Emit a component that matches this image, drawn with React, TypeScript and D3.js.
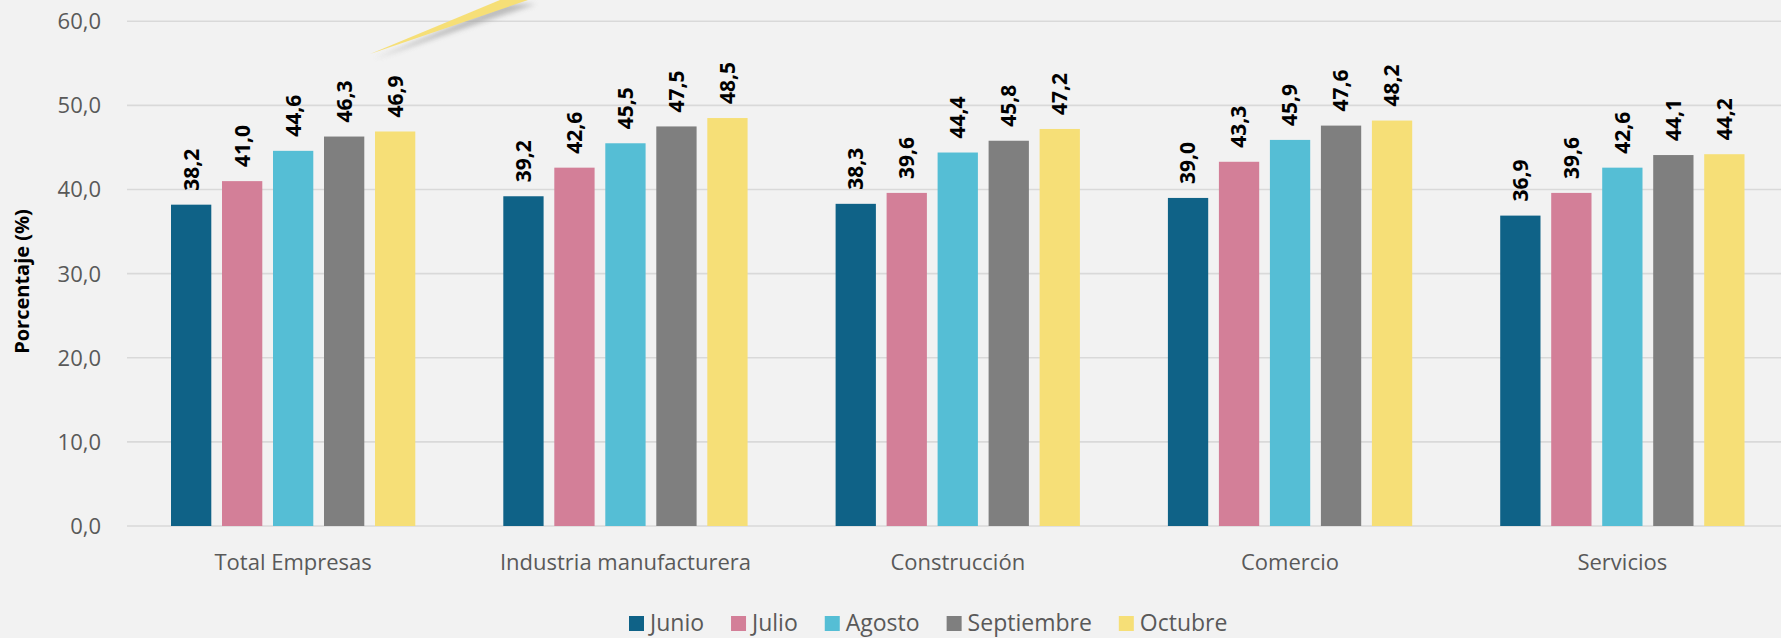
import React from "react";
import * as d3 from "d3";

const categories = ["Total Empresas", "Industria manufacturera", "Construcción", "Comercio", "Servicios"];
const seriesNames = ["Junio", "Julio", "Agosto", "Septiembre", "Octubre"];
const seriesColors = ["#0f6287", "#d37f98", "#55bed5", "#7f7f7f", "#f6df77"];
const junio = [38.2, 39.2, 38.3, 39.0, 36.9];
const julio = [41.0, 42.6, 39.6, 43.3, 39.6];
const agosto = [44.6, 45.5, 44.4, 45.9, 42.6];
const septiembre = [46.3, 47.5, 45.8, 47.6, 44.1];
const octubre = [46.9, 48.5, 47.2, 48.2, 44.2];
const yTicks = [0, 10, 20, 30, 40, 50, 60];
const yTitle = "Porcentaje (%)";

const seriesValues = [junio, julio, agosto, septiembre, octubre];

const W = 1781;
const H = 638;
const FONT = "'Open Sans', 'Segoe UI', sans-serif";

function fmt(v: number) {
  return v.toFixed(1).replace(".", ",");
}

function measure(text: string, font: string) {
  if (typeof document === "undefined") return text.length * 12;
  const c = document.createElement("canvas");
  const ctx = c.getContext("2d");
  if (!ctx) return text.length * 12;
  ctx.font = font;
  return ctx.measureText(text).width;
}

export default function App() {
  React.useEffect(() => {
    document.body.style.margin = "0";
  }, []);

  const x0 = d3.scaleBand<string>().domain(categories).range([127, 1788.5]).paddingInner(0).paddingOuter(0);
  const x1 = d3
    .scaleBand<string>()
    .domain(seriesNames)
    .range([-127.5, 127.5])
    .paddingInner(0.21)
    .paddingOuter(0.105);
  const y = d3.scaleLinear().domain([0, 60]).range([526, 21.3]);

  const legendFont = `23px ${FONT}`;
  let lx = 629;
  const legendItems = seriesNames.map((name, i) => {
    const w = measure(name, legendFont);
    const item = { name, color: seriesColors[i], x: lx, w };
    lx += 15 + 6 + w + 27;
    return item;
  });

  const tipX = 370, tipY = 54;

  return (
    <svg width={W} height={H} style={{ position: "absolute", left: 0, top: 0, display: "block" }}>
      <defs>
        <filter id="blur" x="-20%" y="-50%" width="140%" height="200%">
          <feGaussianBlur stdDeviation="2.5" />
        </filter>
      </defs>
      <rect x={0} y={0} width={W} height={H} fill="#f2f2f2" />
      {yTicks.map((t) => (
        <g key={t}>
          <line x1={127} x2={W} y1={y(t)} y2={y(t)} stroke="#d9d9d9" strokeWidth={1.6} />
          <text
            x={101}
            y={y(t)}
            dy="0.36em"
            textAnchor="end"
            fontFamily={FONT}
            fontSize={22}
            fill="#595959"
          >
            {fmt(t)}
          </text>
        </g>
      ))}
      {/* callout pointer */}
      <polygon
        points={`${tipX + 4},${tipY + 5} ${504},${4} ${536},${4}`}
        fill="#9a9a9a"
        opacity={0.6}
        filter="url(#blur)"
      />
      <polygon points={`${tipX},${tipY} ${500},${0} ${528},${0}`} fill="#f6df77" />
      {categories.map((c, ci) => {
        const cx = (x0(c) ?? 0) + x0.bandwidth() / 2;
        return (
          <g key={c}>
            {seriesNames.map((s, si) => {
              const v = seriesValues[si][ci];
              const bx = cx + (x1(s) ?? 0);
              const bw = x1.bandwidth();
              return (
                <g key={s}>
                  <rect x={bx} y={y(v)} width={bw} height={y(0) - y(v)} fill={seriesColors[si]} />
                  <text
                    transform={`translate(${bx + bw / 2},${y(v) - 14}) rotate(-90)`}
                    dy="0.35em"
                    textAnchor="start"
                    fontFamily={FONT}
                    fontWeight={700}
                    fontSize={21}
                    fill="#000"
                  >
                    {fmt(v)}
                  </text>
                </g>
              );
            })}
            <text x={cx} y={570} textAnchor="middle" fontFamily={FONT} fontSize={22} fill="#595959">
              {c}
            </text>
          </g>
        );
      })}
      <text
        transform={`translate(28.5,281.5) rotate(-90)`}
        textAnchor="middle"
        fontFamily={FONT}
        fontWeight={700}
        fontSize={20}
        fill="#000"
      >
        {yTitle}
      </text>
      {legendItems.map((it) => (
        <g key={it.name}>
          <rect x={it.x} y={616} width={15} height={15} fill={it.color} />
          <text x={it.x + 21} y={631} fontFamily={FONT} fontSize={23} fill="#595959">
            {it.name}
          </text>
        </g>
      ))}
    </svg>
  );
}
